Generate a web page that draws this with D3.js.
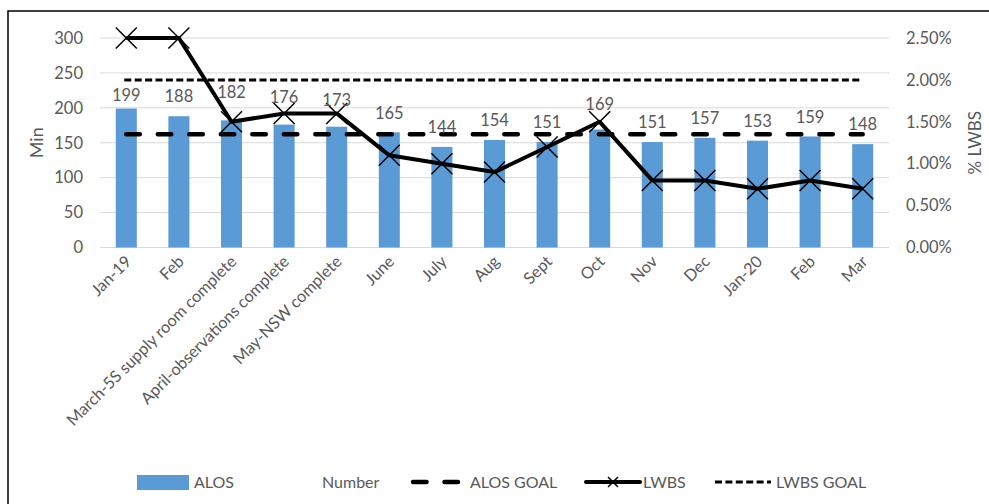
<!DOCTYPE html>
<html>
<head>
<meta charset="utf-8">
<script src="https://cdn.jsdelivr.net/npm/d3@7"></script>
<style>
  html, body { margin: 0; padding: 0; background: #fff; }
  svg { display: block; }
  text { font-family: "Lato", "Liberation Sans", sans-serif; fill: #595959; }
</style>
</head>
<body>
<svg id="chart" width="989" height="504"></svg>
<script>
// Monthly categories (with improvement milestones)
const categories = ["Jan-19", "Feb", "March-5S supply room complete", "April-observations complete",
  "May-NSW complete", "June", "July", "Aug", "Sept", "Oct", "Nov", "Dec", "Jan-20", "Feb", "Mar"];
// Average length of stay, minutes
const alos = [199, 188, 182, 176, 173, 165, 144, 154, 151, 169, 151, 157, 153, 159, 148];
// Left without being seen, share of visits
const lwbs = [0.025, 0.025, 0.015, 0.016, 0.016, 0.011, 0.010, 0.009, 0.012, 0.015, 0.008, 0.008, 0.007, 0.008, 0.007];
// Targets
const alosGoal = 162;
const lwbsGoal = 0.02;
// Axis ticks
const leftTicks = [0, 50, 100, 150, 200, 250, 300];
const rightTicks = [0, 0.005, 0.01, 0.015, 0.02, 0.025];

const svg = d3.select("#chart");
const FONT = "Lato, 'Liberation Sans', sans-serif";

// Outer chart frame
svg.append("rect").attr("x", 8).attr("y", 11).attr("width", 1100).attr("height", 600)
  .attr("fill", "none").attr("stroke", "#000").attr("stroke-width", 1.5);

const plot = { left: 100, right: 889, top: 38, bottom: 247.5 };

const x = d3.scaleBand().domain(d3.range(categories.length))
  .range([plot.left, plot.right]).paddingInner(0.6).paddingOuter(0.3);
const cx = i => x(i) + x.bandwidth() / 2;
const yL = d3.scaleLinear().domain([0, 300]).range([plot.bottom, plot.top]);
const yR = d3.scaleLinear().domain([0, 0.025]).range([plot.bottom, plot.top]);

// Gridlines
svg.append("g").selectAll("line").data(leftTicks).join("line")
  .attr("x1", plot.left).attr("x2", plot.right)
  .attr("y1", d => yL(d)).attr("y2", d => yL(d))
  .attr("stroke", "#d9d9d9").attr("stroke-width", 1);

// Left axis
const leftAxis = svg.append("g").attr("transform", `translate(${plot.left - 17},0)`)
  .call(d3.axisLeft(yL).tickValues(leftTicks).tickSize(0).tickPadding(0));
leftAxis.select(".domain").remove();
leftAxis.selectAll("text").attr("font-size", 16.5).style("fill", "#595959").style("font-family", FONT);

// Right axis
const rightAxis = svg.append("g").attr("transform", `translate(${plot.right + 17},0)`)
  .call(d3.axisRight(yR).tickValues(rightTicks).tickFormat(d3.format(".2%")).tickSize(0).tickPadding(0));
rightAxis.select(".domain").remove();
rightAxis.selectAll("text").attr("font-size", 16.5).style("fill", "#595959").style("font-family", FONT);

// Axis titles
svg.append("text").attr("transform", `translate(43,${(plot.top + plot.bottom) / 2}) rotate(-90)`)
  .attr("text-anchor", "middle").attr("font-size", 18).text("Min");
svg.append("text").attr("transform", `translate(981,${(plot.top + plot.bottom) / 2}) rotate(-90)`)
  .attr("text-anchor", "middle").attr("font-size", 17).text("% LWBS");

// Bars
svg.append("g").selectAll("rect").data(alos).join("rect")
  .attr("x", (d, i) => x(i)).attr("width", x.bandwidth())
  .attr("y", d => yL(d)).attr("height", d => plot.bottom - yL(d))
  .attr("fill", "#5b9bd5");

// Category labels
const xAxis = svg.append("g").attr("transform", `translate(0,${plot.bottom})`)
  .call(d3.axisBottom(x).tickSize(0).tickPadding(0).tickFormat(i => categories[i]));
xAxis.select(".domain").remove();
xAxis.selectAll("text")
  .attr("font-size", 16.3).style("fill", "#595959").style("font-family", FONT)
  .attr("text-anchor", "end").attr("dy", "0.35em")
  .attr("transform", "translate(2,11) rotate(-45)");

// Goal lines
const xs = [cx(0) - 2, cx(categories.length - 1)];
svg.append("line").attr("x1", xs[0]).attr("x2", xs[1])
  .attr("y1", yR(lwbsGoal)).attr("y2", yR(lwbsGoal))
  .attr("stroke", "#000").attr("stroke-width", 3).attr("stroke-dasharray", "7,3.4");
svg.append("line").attr("x1", xs[0] + 2).attr("x2", xs[1])
  .attr("y1", yL(alosGoal)).attr("y2", yL(alosGoal))
  .attr("stroke", "#000").attr("stroke-width", 4.5).attr("stroke-linecap", "round")
  .attr("stroke-dasharray", "13.5,18");

// LWBS line
const line = d3.line().x((d, i) => cx(i)).y(d => yR(d));
svg.append("path").datum(lwbs).attr("d", line)
  .attr("fill", "none").attr("stroke", "#000").attr("stroke-width", 4).attr("stroke-linejoin", "round");

// X markers
const m = 10.5;
svg.append("g").selectAll("path").data(lwbs).join("path")
  .attr("d", (d, i) => {
    const px = cx(i), py = yR(d);
    return `M${px - m},${py - m}L${px + m},${py + m}M${px - m},${py + m}L${px + m},${py - m}`;
  })
  .attr("stroke", "#000").attr("stroke-width", 1.5).attr("fill", "none");

// Value labels above bars, lifted where they would crowd the LWBS markers
const labelLift = [-6, 0, 9, 8, 7, 0, 0, 0, 0, 6, 0, 0, 0, 0, 0];
svg.append("g").selectAll("text").data(alos).join("text")
  .attr("x", (d, i) => cx(i))
  .attr("y", (d, i) => yL(d) - 19.5 - labelLift[i])
  .attr("dy", "0.35em").attr("text-anchor", "middle").attr("font-size", 16.5)
  .text(d => d);

// Legend
const ly = 482;
const legend = svg.append("g").attr("font-size", 16);
legend.append("rect").attr("x", 137).attr("y", ly - 7).attr("width", 52).attr("height", 15).attr("fill", "#5b9bd5");
legend.append("text").attr("x", 194).attr("y", ly).attr("dy", "0.35em").text("ALOS");
legend.append("text").attr("x", 322).attr("y", ly).attr("dy", "0.35em").text("Number");
legend.append("line").attr("x1", 413).attr("x2", 460).attr("y1", ly).attr("y2", ly)
  .attr("stroke", "#000").attr("stroke-width", 4.5).attr("stroke-linecap", "round").attr("stroke-dasharray", "13.5,18");
legend.append("text").attr("x", 470).attr("y", ly).attr("dy", "0.35em").text("ALOS GOAL");
legend.append("line").attr("x1", 586).attr("x2", 640).attr("y1", ly).attr("y2", ly)
  .attr("stroke", "#000").attr("stroke-width", 4).attr("stroke-linecap", "round");
legend.append("path").attr("d", `M${613 - 5},${ly - 5}L${613 + 5},${ly + 5}M${613 - 5},${ly + 5}L${613 + 5},${ly - 5}`)
  .attr("stroke", "#000").attr("stroke-width", 1.5);
legend.append("text").attr("x", 643).attr("y", ly).attr("dy", "0.35em").text("LWBS");
legend.append("line").attr("x1", 715).attr("x2", 771).attr("y1", ly).attr("y2", ly)
  .attr("stroke", "#000").attr("stroke-width", 3).attr("stroke-dasharray", "7,3.4");
legend.append("text").attr("x", 776).attr("y", ly).attr("dy", "0.35em").text("LWBS GOAL");
</script>
</body>
</html>
